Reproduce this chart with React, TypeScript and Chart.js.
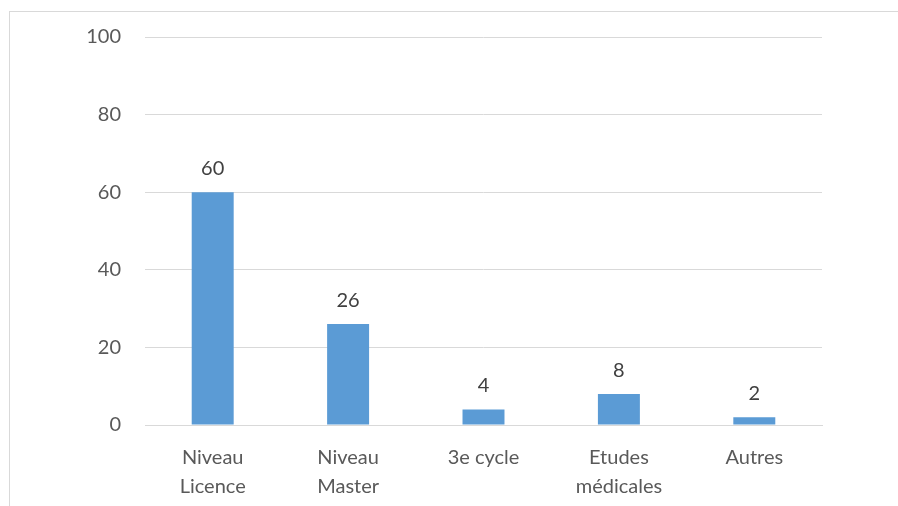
import React, { useEffect, useRef } from "react";
import { Chart, registerables } from "chart.js";

Chart.register(...registerables);

const categories: string[][] = [
  ["Niveau", "Licence"],
  ["Niveau", "Master"],
  ["3e cycle"],
  ["Etudes", "médicales"],
  ["Autres"],
];
const values: number[] = [60, 26, 4, 8, 2];
const yTicks: number[] = [0, 20, 40, 60, 80, 100];

const FONT = "Lato, 'Open Sans', sans-serif";

const dataLabelPlugin = {
  id: "dataLabels",
  afterDatasetsDraw(chart: any) {
    const ctx = chart.ctx;
    const meta = chart.getDatasetMeta(0);
    ctx.save();
    ctx.fillStyle = "#404040";
    ctx.font = `20px ${FONT}`;
    ctx.textAlign = "center";
    ctx.textBaseline = "alphabetic";
    meta.data.forEach((bar: any, i: number) => {
      ctx.fillText(String(chart.data.datasets[0].data[i]), bar.x, bar.y - 17);
    });
    ctx.restore();
  },
};

export default function App() {
  const ref = useRef<HTMLCanvasElement | null>(null);
  useEffect(() => {
    if (!ref.current) return;
    const chart = new Chart(ref.current, {
      type: "bar",
      data: {
        labels: categories,
        datasets: [
          {
            data: values,
            backgroundColor: "#5b9bd5",
            borderWidth: 0,
            categoryPercentage: 1,
            barPercentage: 0.31,
          },
        ],
      },
      plugins: [dataLabelPlugin],
      options: {
        animation: false,
        responsive: false,
        maintainAspectRatio: false,
        layout: { padding: { left: 0, right: 76, top: 37, bottom: 0 } },
        plugins: {
          legend: { display: false },
          tooltip: { enabled: false },
        },
        scales: {
          x: {
            grid: { display: false, drawTicks: false },
            border: { display: true, color: "#d9d9d9", width: 1 },
            ticks: {
              color: "#595959",
              font: { family: FONT, size: 20, lineHeight: 1.45 },
              padding: 18,
              maxRotation: 0,
              autoSkip: false,
            },
            afterFit: (s: any) => {
              s.height = 81;
            },
          },
          y: {
            min: 0,
            max: 100,
            afterBuildTicks: (s: any) => {
              s.ticks = yTicks.map((v) => ({ value: v }));
            },
            grid: { color: "#d9d9d9", drawTicks: false, lineWidth: 1 },
            border: { display: false },
            ticks: {
              color: "#595959",
              font: { family: FONT, size: 20 },
              padding: 24,
            },
            afterFit: (s: any) => {
              s.width = 145;
            },
          },
        },
      },
    });
    return () => chart.destroy();
  }, []);
  return (
    <div style={{ position: "fixed", left: 0, top: 0, width: 898, height: 506, background: "#fff", overflow: "hidden" }}>
      <div
        style={{
          position: "absolute",
          left: 9,
          top: 11,
          width: 1000,
          height: 1000,
          border: "1px solid #d9d9d9",
          boxSizing: "border-box",
        }}
      />
      <canvas ref={ref} width={898} height={506} style={{ position: "absolute", left: 0, top: 0 }} />
    </div>
  );
}
